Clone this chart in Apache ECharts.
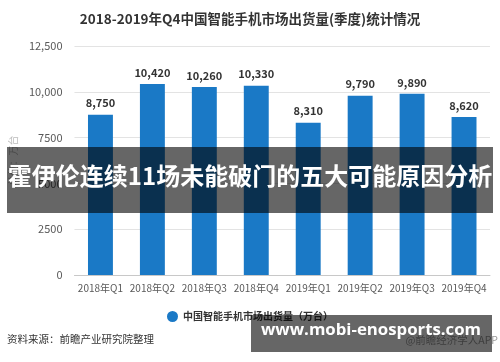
<!DOCTYPE html>
<html>
<head>
<meta charset="utf-8">
<script src="https://cdn.jsdelivr.net/npm/echarts@6/dist/echarts.min.js"></script>
<style>
html,body{margin:0;padding:0;background:#fff;}
#c{width:500px;height:362px;}
</style>
</head>
<body>
<div id="c"></div>
<script>
var categories = ['2018年Q1','2018年Q2','2018年Q3','2018年Q4','2019年Q1','2019年Q2','2019年Q3','2019年Q4'];
var shipments = [8750, 10420, 10260, 10330, 8310, 9790, 9890, 8620];
var yTickLabels = {0:'0', 2500:'2500', 5000:'5000', 7500:'7500', 10000:'10,000', 12500:'12,500'};
var titleText = '2018-2019年Q4中国智能手机市场出货量(季度)统计情况';
var seriesName = '中国智能手机市场出货量（万台）';
var sourceText = '资料来源：前瞻产业研究院整理';
var bannerText = '霍伊伦连续11场未能破门的五大可能原因分析';
var siteText = 'www.mobi-enosports.com';

var FF = 'Noto Sans CJK SC';
var chart = echarts.init(document.getElementById('c'), null, {renderer:'canvas'});
chart.setOption({
  animation: false,
  textStyle: {fontFamily: FF},
  title: {
    text: titleText, left: 'center', top: 7,
    textStyle: {fontSize: 13.5, fontWeight: 'bold', color: '#333', fontFamily: FF}
  },
  legend: {
    data: [seriesName], left: 162, top: 306, icon: 'circle', itemWidth: 11, itemHeight: 11, itemGap: 6,
    textStyle: {fontSize: 10, color: '#333', fontWeight: 'bold', fontFamily: FF}
  },
  grid: {left: 70, right: 10, top: 46, bottom: 87},
  xAxis: {
    type: 'category', data: categories,
    axisLine: {lineStyle: {color: '#c8c8c8'}},
    axisTick: {alignWithLabel: true, length: 4, lineStyle: {color: '#c8c8c8'}},
    axisLabel: {interval: 0, fontSize: 10, color: '#595959', margin: 8, fontFamily: FF}
  },
  yAxis: {
    type: 'value', min: 0, max: 12500, interval: 2500,
    name: '单位：万台', nameLocation: 'middle', nameGap: 52, nameRotate: 90,
    nameTextStyle: {fontSize: 10, color: '#bbb', fontFamily: FF},
    axisLine: {show: false}, axisTick: {show: false},
    axisLabel: {fontSize: 11, color: '#595959', margin: 12, fontFamily: FF, formatter: function(v){return yTickLabels[v];}},
    splitLine: {lineStyle: {color: '#e3e3e3'}}
  },
  series: [{
    name: seriesName, type: 'bar', data: shipments, barWidth: '48%',
    itemStyle: {color: '#1a79c6'},
    label: {show: true, position: 'top', distance: 6, fontSize: 11, fontWeight: 'bold', color: '#333', fontFamily: FF,
      formatter: function(p){return p.value.toLocaleString('en-US');}}
  }],
  graphic: [
    {type: 'text', left: 7, top: 334, z: 10, style: {text: sourceText, fontSize: 10.5, fill: '#333', fontFamily: FF}},
    {type: 'text', right: 2, top: 335, z: 10, style: {text: '@前瞻经济学人APP', fontSize: 10.5, fill: '#999', fontFamily: FF}},
    {type: 'rect', left: 7, top: 147, z: 100, shape: {width: 486, height: 66}, style: {fill: 'rgba(0,0,0,0.6)'}},
    {type: 'text', left: 'center', top: 164, z: 101, style: {text: bannerText, fontSize: 24, fontWeight: 'bold', fill: '#fff', fontFamily: FF}},
    {type: 'rect', left: 251, top: 315, z: 100, shape: {width: 241, height: 37}, style: {fill: 'rgba(0,0,0,0.6)'}},
    {type: 'text', left: 261, top: 322, z: 101, style: {text: siteText, fontSize: 16.8, fontWeight: 'bold', fill: '#fff', fontFamily: 'Open Sans'}}
  ]
});
</script>
</body>
</html>
